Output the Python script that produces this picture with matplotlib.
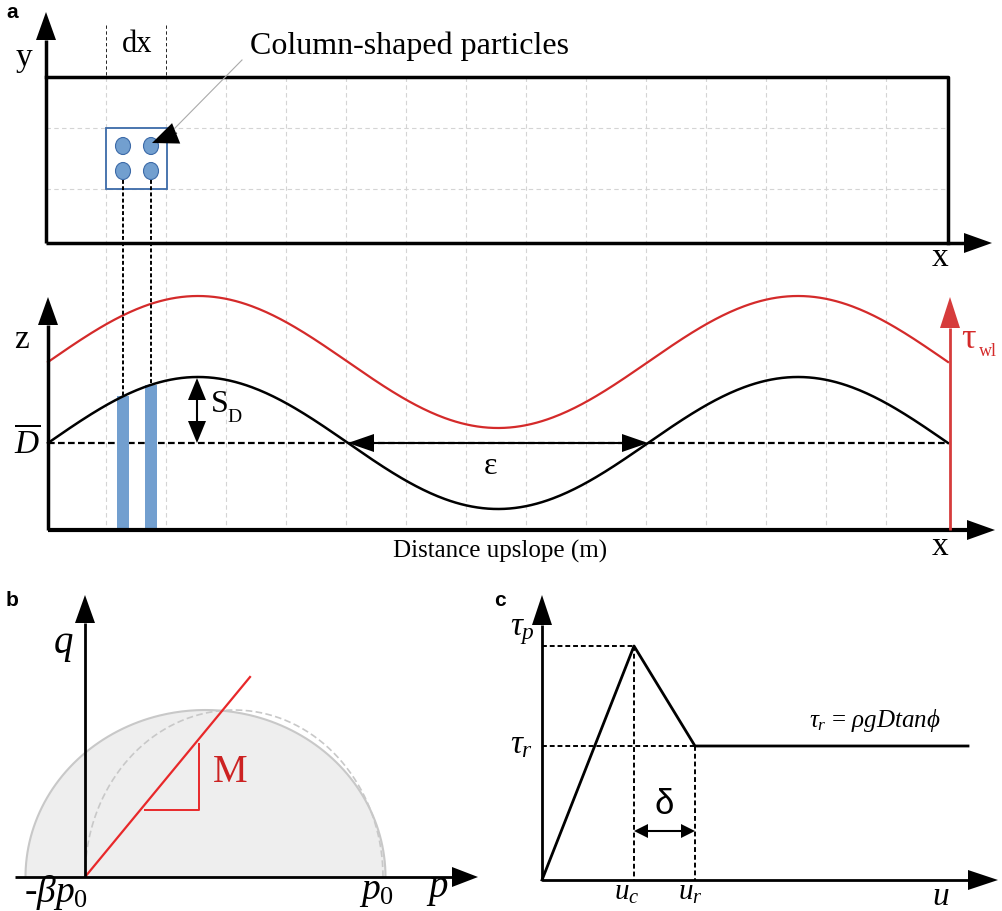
import numpy as np
import matplotlib
matplotlib.use('Agg')
from matplotlib import pyplot as plt
from matplotlib.patches import Rectangle, Ellipse, Polygon

plt.rcParams['font.family'] = ['Liberation Serif', 'DejaVu Serif']
plt.rcParams['mathtext.fontset'] = 'custom'
plt.rcParams['mathtext.rm'] = 'Liberation Serif'
plt.rcParams['mathtext.it'] = 'Liberation Serif:italic'

# --- datos del esquema (coordenadas en pixeles de la figura) ---
# panel a, vista en planta
rejilla_x = [106 + 60 * k for k in range(14)]
rejilla_y = [128, 189]
particulas_x = [123, 151]
particulas_y = [146, 171]
# panel a, perfil
base_x0, base_x1 = 48, 948
D_media = 443
amplitud = 66
longitud_onda = 600
desplazamiento_rojo = 81
columnas_x = [123, 151]
# panel b, superficie de fluencia
elipse_centro = 205.5
elipse_a, elipse_b = 180, 167
elipse2_centro = 234
elipse2_a = 149
linea_M = ([85, 250], [877, 677])
triangulo_M = ([145, 199, 199], [810, 810, 744])
# panel c, curva tension-desplazamiento
u_pts = [542, 634, 695, 968]
tau_pts = [880, 646, 746, 746]

ROJO = '#d42a2a'
AZUL = '#729fcf'
AZUL_BORDE = '#3c6aa8'


def flecha(ax, x0, y0, x1, y1, color='black', lw=2.5, largo=28, ancho=20, z=5):
    # linea con cabeza triangular rellena al final
    d = np.array([x1 - x0, y1 - y0], float)
    n = np.hypot(*d)
    u = d / n
    p = np.array([-u[1], u[0]])
    base = np.array([x1, y1]) - u * largo
    ax.plot([x0, base[0]], [y0, base[1]], color=color, lw=lw, zorder=z,
            solid_capstyle='butt')
    tri = [[x1, y1], base + p * ancho / 2, base - p * ancho / 2]
    ax.add_patch(Polygon(tri, closed=True, color=color, zorder=z, lw=0))


def flecha_doble(ax, x0, y0, x1, y1, lw=1.5, largo=24, ancho=16):
    xm, ym = (x0 + x1) / 2, (y0 + y1) / 2
    flecha(ax, xm, ym, x1, y1, lw=lw, largo=largo, ancho=ancho)
    flecha(ax, xm, ym, x0, y0, lw=lw, largo=largo, ancho=ancho)


fig = plt.figure(figsize=(10.03, 9.11), dpi=100)
ax = fig.add_axes([0, 0, 1, 1])
ax.set_xlim(0, 1003)
ax.set_ylim(911, 0)
ax.set_axis_off()

# ---------------- panel a ----------------
for gx in rejilla_x:
    ax.plot([gx, gx], [77, 530], color='#d4d4d4', lw=0.8, ls=(0, (4, 3)), zorder=1)
for gy in rejilla_y:
    ax.plot([46, 948], [gy, gy], color='#d4d4d4', lw=0.8, ls=(0, (4, 3)), zorder=1)
for gx in rejilla_x[:2]:
    ax.plot([gx, gx], [25, 77], color='black', lw=0.6, ls=(0, (4, 3)), zorder=1)

ax.plot([46, 948, 948], [77, 77, 243], color='black', lw=2.5, zorder=4)
flecha(ax, 46, 243, 46, 12)
flecha(ax, 46, 243, 992, 243)

ax.add_patch(Rectangle((106, 128), 61, 61, fill=True, fc='white',
                       ec=AZUL_BORDE, lw=1.3, zorder=3))
for px in particulas_x:
    for py in particulas_y:
        ax.add_patch(Ellipse((px, py), 15, 17, fc=AZUL, ec=AZUL_BORDE,
                             lw=0.8, zorder=4))

ax.plot([242, 175], [60, 128], color='#aaaaaa', lw=0.8, zorder=5)
flecha(ax, 177, 133, 152, 143, lw=0.8, largo=26, ancho=22, z=6)

ax.text(250, 46, 'Column-shaped particles', fontsize=23, va='center', ha='left')
ax.text(137, 44, 'dx', fontsize=22, va='center', ha='center')
ax.text(24, 58, 'y', fontsize=24, va='center', ha='center')
ax.text(940, 258, 'x', fontsize=24, va='center', ha='center')
ax.text(12, 13, 'a', fontsize=15, fontweight='bold', family='Liberation Sans',
        va='center', ha='center')

# perfil
xs = np.linspace(base_x0, base_x1, 500)
fase = 2 * np.pi * (xs - base_x0) / longitud_onda
perfil = D_media - amplitud * np.sin(fase)
ax.plot(xs, perfil, color='black', lw=1.8, zorder=4)
ax.plot(xs, perfil - desplazamiento_rojo, color=ROJO, lw=1.6, zorder=4)

ax.plot([base_x0, base_x1], [D_media, D_media], color='black', lw=1.6,
        ls=(0, (3, 1.5)), zorder=3)

for cx in columnas_x:
    tope = D_media - amplitud * np.sin(2 * np.pi * (cx - base_x0) / longitud_onda)
    ax.add_patch(Rectangle((cx - 6, tope), 12, 530 - tope, color=AZUL, lw=0, zorder=3))
    ax.plot([cx, cx], [180, tope], color='black', lw=1.4, ls=(0, (2, 1.2)), zorder=5)

flecha(ax, 48, 530, 48, 297)
flecha(ax, 48, 530, 995, 530, lw=3)
flecha(ax, 950, 530, 950, 297, color='#d63c3c', lw=2, largo=31, ancho=20)

flecha_doble(ax, 197, 378, 197, D_media, lw=1.5, largo=22, ancho=18)
flecha_doble(ax, 348, D_media, 648, D_media, lw=1.5, largo=26, ancho=18)

ax.text(211, 405, 'S', fontsize=23, va='center', ha='left')
ax.text(227, 418, 'D', fontsize=14, va='center', ha='left')
ax.text(491, 466, 'ε', fontsize=23, va='center', ha='center')
ax.text(22, 340, 'z', fontsize=24, va='center', ha='center')
ax.text(27, 443, r'$\overline{D}$', fontsize=24, va='center', ha='center')
ax.text(940, 547, 'x', fontsize=24, va='center', ha='center')
ax.text(500, 551, 'Distance upslope (m)', fontsize=18, va='center', ha='center')
ax.text(961, 340, 'τ', fontsize=26, color=ROJO, va='center', ha='left')
ax.text(979, 351, 'wl', fontsize=13, color=ROJO, va='center', ha='left')

# ---------------- panel b ----------------
ang = np.linspace(0, np.pi, 300)
ex = elipse_centro + elipse_a * np.cos(ang)
ey = 877 - elipse_b * np.sin(ang)
ax.fill(ex, ey, color='#eeeeee', zorder=1, lw=0)
ax.plot(ex, ey, color='#c8c8c8', lw=1.5, zorder=2)
ex2 = elipse2_centro + elipse2_a * np.cos(ang)
ey2 = 877 - elipse_b * np.sin(ang)
ax.plot(ex2, ey2, color='#c8c8c8', lw=1.2, ls=(0, (4, 2)), zorder=2)

flecha(ax, 85, 877, 85, 595, lw=2)
flecha(ax, 15, 877, 478, 877, lw=2, largo=26, ancho=20)
ax.plot(*linea_M, color='#e8282a', lw=1.6, zorder=4)
ax.plot(*triangulo_M, color='#e8282a', lw=1.4, zorder=4)
ax.text(230, 772, 'M', fontsize=28, color='#cc2222', va='center', ha='center')

ax.text(63, 645, r'$q$', fontsize=28, va='center', ha='center')
ax.text(56, 893, r'-$\beta p_0$', fontsize=27, va='center', ha='center')
ax.text(377, 892, r'$p_0$', fontsize=27, va='center', ha='center')
ax.text(437, 890, r'$p$', fontsize=28, va='center', ha='center')
ax.text(12, 601, 'b', fontsize=15, fontweight='bold', family='Liberation Sans',
        va='center', ha='center')

# ---------------- panel c ----------------
flecha(ax, 542, 880, 542, 595, lw=2, largo=30, ancho=20)
flecha(ax, 542, 880, 998, 880, lw=2, largo=30, ancho=20)
ax.plot(u_pts, tau_pts, color='black', lw=2, zorder=4)
punteado = dict(color='black', lw=1.4, ls=(0, (2.5, 1.5)), zorder=3)
ax.plot([542, u_pts[1]], [tau_pts[1], tau_pts[1]], **punteado)
ax.plot([542, u_pts[2]], [tau_pts[2], tau_pts[2]], **punteado)
ax.plot([u_pts[1], u_pts[1]], [tau_pts[1], 880], **punteado)
ax.plot([u_pts[2], u_pts[2]], [tau_pts[2], 880], **punteado)
flecha_doble(ax, u_pts[1], 831, u_pts[2], 831, lw=1.5, largo=14, ancho=14)

ax.text(664, 804, 'δ', fontsize=25, family='Liberation Sans', va='center', ha='center')
ax.text(522, 632, r'$\tau_p$', fontsize=24, va='center', ha='center')
ax.text(522, 745, r'$\tau_r$', fontsize=24, va='center', ha='center')
ax.text(809, 720, r'$\tau_r$ = $\rho gDtan\phi$', fontsize=18, va='center', ha='left')
ax.text(627, 893, r'$u_c$', fontsize=21, va='center', ha='center')
ax.text(690, 893, r'$u_r$', fontsize=21, va='center', ha='center')
ax.text(941, 897, r'$u$', fontsize=24, va='center', ha='center')
ax.text(500, 601, 'c', fontsize=15, fontweight='bold', family='Liberation Sans',
        va='center', ha='center')

fig.savefig('out.png', dpi=100)
